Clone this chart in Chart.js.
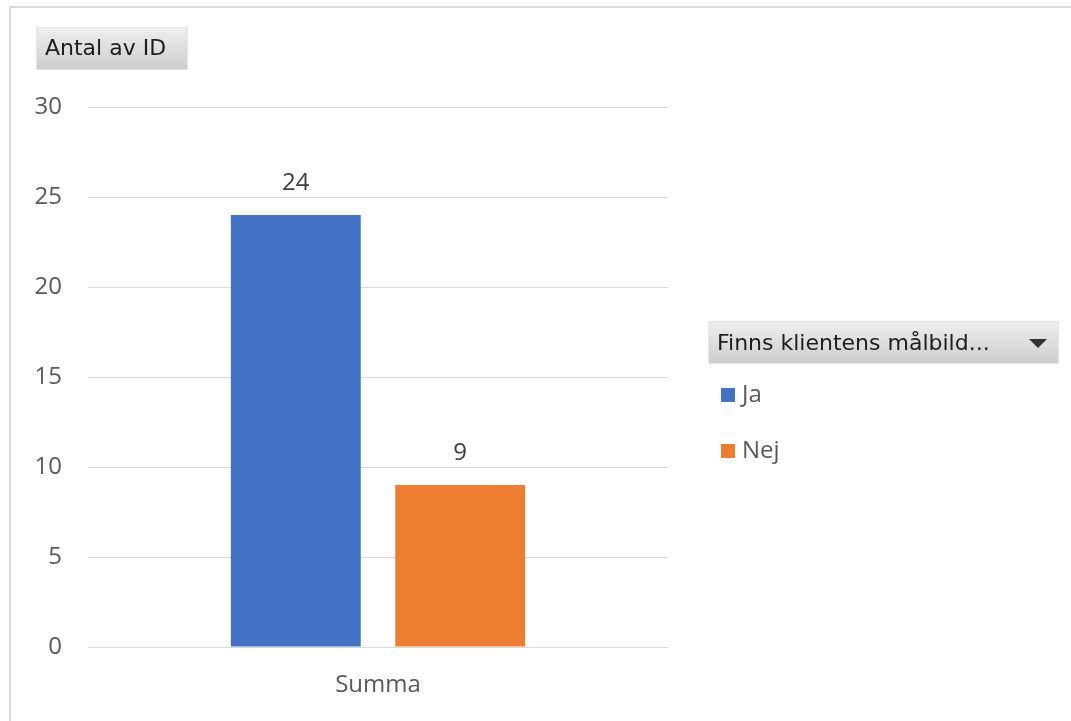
<!DOCTYPE html>
<html>
<head>
<meta charset="utf-8">
<script src="https://cdn.jsdelivr.net/npm/chart.js@4/dist/chart.umd.min.js"></script>
<style>
html,body{margin:0;padding:0;background:#fff;}
#wrap{position:relative;width:1071px;height:721px;}
</style>
</head>
<body>
<div id="wrap"><canvas id="c" width="1071" height="721"></canvas></div>
<script>
const categories = ["Summa"];
const seriesNames = ["Ja", "Nej"];
const seriesValues = [[24], [9]];
const seriesColors = ["#4472C4", "#ED7D31"];
const yTicks = [0, 5, 10, 15, 20, 25, 30];
const valueFieldLabel = "Antal av ID";
const legendTitle = "Finns klientens målbild...";

const FONT = "'Open Sans', 'Noto Sans', sans-serif";
const BTNFONT = "'DejaVu Sans', Tahoma, sans-serif";
const FS = 24;

const decor = {
  id: 'decor',
  beforeDraw(chart) {
    const ctx = chart.ctx;
    ctx.save();
    ctx.fillStyle = '#fff';
    ctx.fillRect(0, 0, chart.width, chart.height);
    ctx.strokeStyle = '#dcdcdc';
    ctx.lineWidth = 2;
    ctx.strokeRect(10, 7, 1100, 760);
    ctx.restore();
  },
  afterDraw(chart) {
    const ctx = chart.ctx;
    ctx.save();
    // value field button
    drawButton(ctx, 36, 27, 152, 43);
    ctx.fillStyle = '#1e1e1e';
    ctx.font = '22px ' + BTNFONT;
    ctx.textBaseline = 'middle';
    ctx.textAlign = 'left';
    ctx.fillText(valueFieldLabel, 45, 49);
    // legend button
    drawButton(ctx, 708, 321, 351, 43);
    ctx.fillStyle = '#1e1e1e';
    ctx.font = '22px ' + BTNFONT;
    ctx.fillText(legendTitle, 717, 344);
    ctx.fillStyle = '#333';
    ctx.beginPath();
    ctx.moveTo(1029, 339); ctx.lineTo(1047, 339); ctx.lineTo(1038, 348); ctx.closePath();
    ctx.fill();
    // legend items from datasets
    chart.data.datasets.forEach((ds, i) => {
      const y = 395 + i * 56;
      ctx.fillStyle = ds.backgroundColor;
      ctx.fillRect(721, y - 7, 14, 14);
      ctx.fillStyle = '#595959';
      ctx.font = FS + 'px ' + FONT;
      ctx.textAlign = 'left';
      ctx.textBaseline = 'middle';
      ctx.fillText(ds.label, 742, y);
    });
    // data labels
    chart.data.datasets.forEach((ds, i) => {
      const meta = chart.getDatasetMeta(i);
      meta.data.forEach((bar, j) => {
        ctx.fillStyle = '#404040';
        ctx.font = FS + 'px ' + FONT;
        ctx.textAlign = 'center';
        ctx.textBaseline = 'middle';
        ctx.fillText(String(ds.data[j]), bar.x, bar.y - 32);
      });
    });
    ctx.restore();
  }
};

function drawButton(ctx, x, y, w, h) {
  const g = ctx.createLinearGradient(0, y, 0, y + h);
  g.addColorStop(0, '#efefef');
  g.addColorStop(1, '#cdcdcd');
  ctx.fillStyle = g;
  ctx.fillRect(x, y, w, h);
  ctx.strokeStyle = '#e6e6e6';
  ctx.lineWidth = 1;
  ctx.strokeRect(x + 0.5, y + 0.5, w - 1, h - 1);
}

new Chart(document.getElementById('c'), {
  type: 'bar',
  data: {
    labels: categories,
    datasets: seriesNames.map((n, i) => ({
      label: n,
      data: seriesValues[i],
      backgroundColor: seriesColors[i],
      borderWidth: 0,
      categoryPercentage: 0.567,
      barPercentage: 0.79
    }))
  },
  options: {
    responsive: false,
    animation: false,
    devicePixelRatio: 1,
    layout: { padding: { left: 0, right: 403, top: 107, bottom: 0 } },
    plugins: { legend: { display: false }, tooltip: { enabled: false } },
    scales: {
      x: {
        grid: { display: false, drawTicks: false },
        border: { display: false },
        ticks: { color: '#595959', font: { family: FONT, size: FS }, padding: 24 },
        afterFit(s) { s.height = 74; }
      },
      y: {
        min: 0, max: 30,
        afterBuildTicks(s) { s.ticks = yTicks.map(v => ({ value: v })); },
        grid: { color: '#d9d9d9', lineWidth: 1, drawTicks: false },
        border: { display: false },
        ticks: { color: '#595959', font: { family: FONT, size: FS }, padding: 26 },
        afterFit(s) { s.width = 88; }
      }
    }
  },
  plugins: [decor]
});
</script>
</body>
</html>
